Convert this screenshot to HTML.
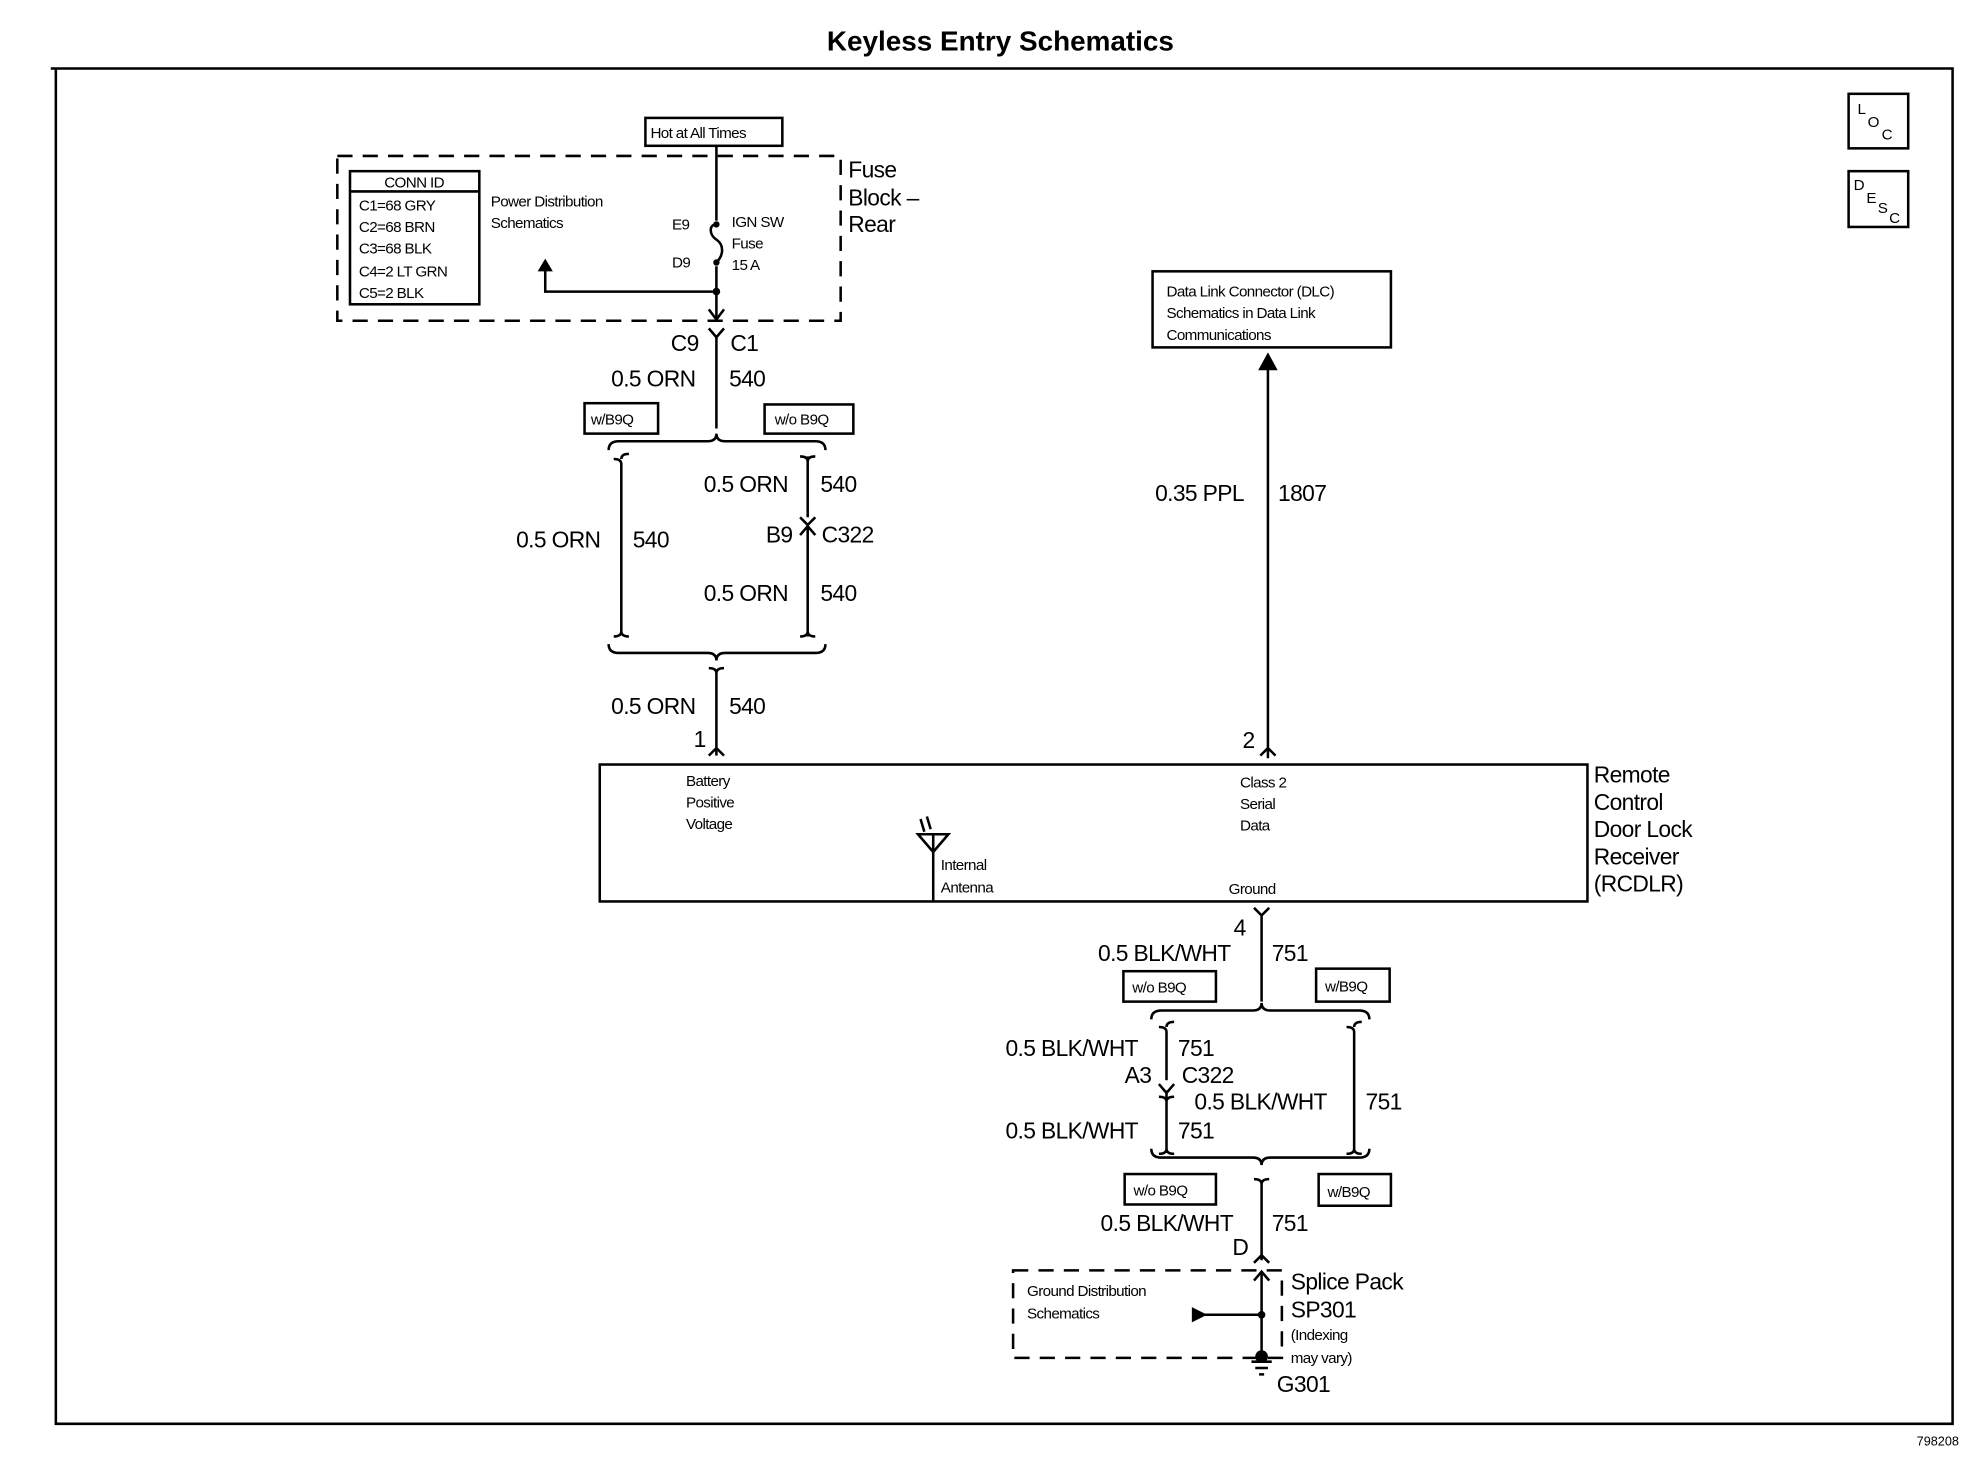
<!DOCTYPE html>
<html><head><meta charset="utf-8"><style>html,body{margin:0;padding:0;background:#fff}svg{display:block}text{font-family:"Liberation Sans",Arial,sans-serif;fill:#000}</style></head>
<body>
<svg width="1978" height="1472" viewBox="0 0 1560 1161" xmlns="http://www.w3.org/2000/svg">
<g fill="none" stroke="#000" stroke-width="2">
<path d="M40 54 H1540 V1123 H44 V54"/>
<rect x="1458" y="74" width="47" height="43"/>
<rect x="1458" y="135" width="47" height="44"/>
<rect x="509" y="93" width="108" height="22"/>
<rect x="266" y="123" width="397" height="130" stroke-dasharray="12,8"/>
<rect x="276" y="135" width="102" height="105"/>
<line x1="276" y1="151" x2="378" y2="151"/>
<path d="M565 115 V174 M565 210 V252"/>
<path d="M565 177 c-6 0 -6 8 0 12 c6 4 6 12 0 18"/>
<path d="M565 230 H430 V212"/>
<path d="M559 244 L565 252 L571 244"/>
<path d="M559 259 L565 266 L571 259 M565 266 V338"/>
<rect x="461" y="318" width="58" height="24"/>
<rect x="603" y="319" width="70" height="23"/>
<path d="M480 355 q0 -7 8 -7 H558 q7 0 7 -6 q0 6 7 6 H643 q8 0 8 7"/>
<path d="M484 362 q6 0 6 4 V498 q0 4 -6 4 M490 362 q0 -4 6 -4 M490 498 q0 4 6 4"/>
<path d="M637 360 V408 M631 408 L637 414 L643 408 M631 422 L637 415 L643 422 M637 415 V502 M631 360 q6 0 6 4 q0 -4 6 -4 M631 502 q6 0 6 -4 q0 4 6 4"/>
<path d="M480 508 q0 7 8 7 H558 q7 0 7 6 q0 -6 7 -6 H643 q8 0 8 -7"/>
<path d="M559 527 q6 0 6 4 q0 -4 6 -4 M565 531 V596 M559 596 L565 590 L571 596"/>
<rect x="473" y="603" width="779" height="108"/>
<path d="M736 711 V662 M724 658 L748 658 L736 672 Z M736 658 V672 M726 646 l3 10 M731 644 l3 10"/>
<rect x="909" y="214" width="188" height="60"/>
<path d="M1000 284 V598 M994 596 L1000 590 L1006 596"/>
<path d="M994 291 L1000 280 L1006 291 Z" fill="#000"/>
<path d="M989 716 L995 722 L1001 716 M995 722 V790"/>
<rect x="886" y="766" width="73" height="24"/>
<rect x="1038" y="764" width="58" height="26"/>
<path d="M908 804 q0 -7 8 -7 H988 q7 0 7 -6 q0 6 7 6 H1072 q8 0 8 7"/>
<path d="M914 810 q6 0 6 4 V852 M914 855 L920 862 L926 855 M920 860 V906 q0 4 -6 4 M920 810 q0 -4 6 -4 M914 865 q6 0 6 4 q0 -4 6 -4 M920 906 q0 4 6 4"/>
<path d="M1062 810 q6 0 6 4 V906 q0 4 -6 4 M1068 810 q0 -4 6 -4 M1068 906 q0 4 6 4"/>
<path d="M908 906 q0 7 8 7 H988 q7 0 7 6 q0 -6 7 -6 H1072 q8 0 8 -7"/>
<rect x="887" y="926" width="72" height="24"/>
<rect x="1040" y="926" width="57" height="25"/>
<path d="M989 930 q6 0 6 4 q0 -4 6 -4 M995 934 V994 M989 996 L995 990 L1001 996"/>
<rect x="799" y="1002" width="212" height="69" stroke-dasharray="12,8"/>
<path d="M989 1010 L995 1003 L1001 1010 M995 1003 V1070 M995 1037 H950"/>
<path d="M987 1074 H1003 M990 1079 H1000 M993 1084 H997"/>
</g>
<path d="M940 1031 L952 1037 L940 1043 Z M424 214 L430 204 L436 214 Z"/>
<circle cx="565" cy="230" r="3"/><circle cx="995" cy="1037" r="3"/><circle cx="995" cy="1070" r="5"/>
<circle cx="565" cy="177" r="2.5"/><circle cx="565" cy="207" r="2.5"/>
<text x="789" y="40" font-size="22" font-weight="bold" text-anchor="middle">Keyless Entry Schematics</text>
<text x="1545" y="1140" font-size="10" text-anchor="end">798208</text>
<text x="1465" y="90" font-size="12">L</text><text x="1473" y="100" font-size="12">O</text><text x="1484" y="110" font-size="12">C</text>
<text x="1462" y="150" font-size="12">D</text><text x="1472" y="160" font-size="12">E</text><text x="1481" y="168" font-size="12">S</text><text x="1490" y="176" font-size="12">C</text>
<g font-size="12" letter-spacing="-0.5">
<text x="513" y="109">Hot at All Times</text>
<text x="303" y="148">CONN ID</text>
<text x="283" y="166">C1=68 GRY</text>
<text x="283" y="183">C2=68 BRN</text>
<text x="283" y="200">C3=68 BLK</text>
<text x="283" y="218">C4=2 LT GRN</text>
<text x="283" y="235">C5=2 BLK</text>
<text x="387" y="163">Power Distribution</text>
<text x="387" y="180">Schematics</text>
<text x="530" y="181">E9</text><text x="530" y="211">D9</text>
<text x="577" y="179">IGN SW</text><text x="577" y="196">Fuse</text><text x="577" y="213">15 A</text>
<text x="466" y="335">w/B9Q</text><text x="611" y="335">w/o B9Q</text>
<text x="541" y="620">Battery</text><text x="541" y="637">Positive</text><text x="541" y="654">Voltage</text>
<text x="978" y="621">Class 2</text><text x="978" y="638">Serial</text><text x="978" y="655">Data</text>
<text x="742" y="686">Internal</text><text x="742" y="704">Antenna</text>
<text x="969" y="705">Ground</text>
<text x="920" y="234">Data Link Connector (DLC)</text>
<text x="920" y="251">Schematics in Data Link</text>
<text x="920" y="268">Communications</text>
<text x="893" y="783">w/o B9Q</text><text x="1045" y="782">w/B9Q</text>
<text x="894" y="943">w/o B9Q</text><text x="1047" y="944">w/B9Q</text>
<text x="810" y="1022">Ground Distribution</text><text x="810" y="1040">Schematics</text>
<text x="1018" y="1057">(Indexing</text><text x="1018" y="1075">may vary)</text>
</g>
<g font-size="18" letter-spacing="-0.5">
<text x="669" y="140">Fuse</text><text x="669" y="162">Block –</text><text x="669" y="183">Rear</text>
<text x="529" y="277">C9</text><text x="576" y="277">C1</text>
<text x="482" y="305">0.5 ORN</text><text x="575" y="305">540</text>
<text x="555" y="388">0.5 ORN</text><text x="647" y="388">540</text>
<text x="407" y="432">0.5 ORN</text><text x="499" y="432">540</text>
<text x="604" y="428">B9</text><text x="648" y="428">C322</text>
<text x="555" y="474">0.5 ORN</text><text x="647" y="474">540</text>
<text x="482" y="563">0.5 ORN</text><text x="575" y="563">540</text>
<text x="547" y="589">1</text><text x="980" y="590">2</text>
<text x="911" y="395">0.35 PPL</text><text x="1008" y="395">1807</text>
<text x="1257" y="617">Remote</text><text x="1257" y="639">Control</text><text x="1257" y="660">Door Lock</text><text x="1257" y="682">Receiver</text><text x="1257" y="703">(RCDLR)</text>
<text x="973" y="738">4</text>
<text x="866" y="758">0.5 BLK/WHT</text><text x="1003" y="758">751</text>
<text x="793" y="833">0.5 BLK/WHT</text><text x="929" y="833">751</text>
<text x="887" y="854">A3</text><text x="932" y="854">C322</text>
<text x="942" y="875">0.5 BLK/WHT</text><text x="1077" y="875">751</text>
<text x="793" y="898">0.5 BLK/WHT</text><text x="929" y="898">751</text>
<text x="868" y="971">0.5 BLK/WHT</text><text x="1003" y="971">751</text>
<text x="972" y="990">D</text>
<text x="1018" y="1017">Splice Pack</text><text x="1018" y="1039">SP301</text>
<text x="1007" y="1098">G301</text>
</g>
</svg>
</body></html>
